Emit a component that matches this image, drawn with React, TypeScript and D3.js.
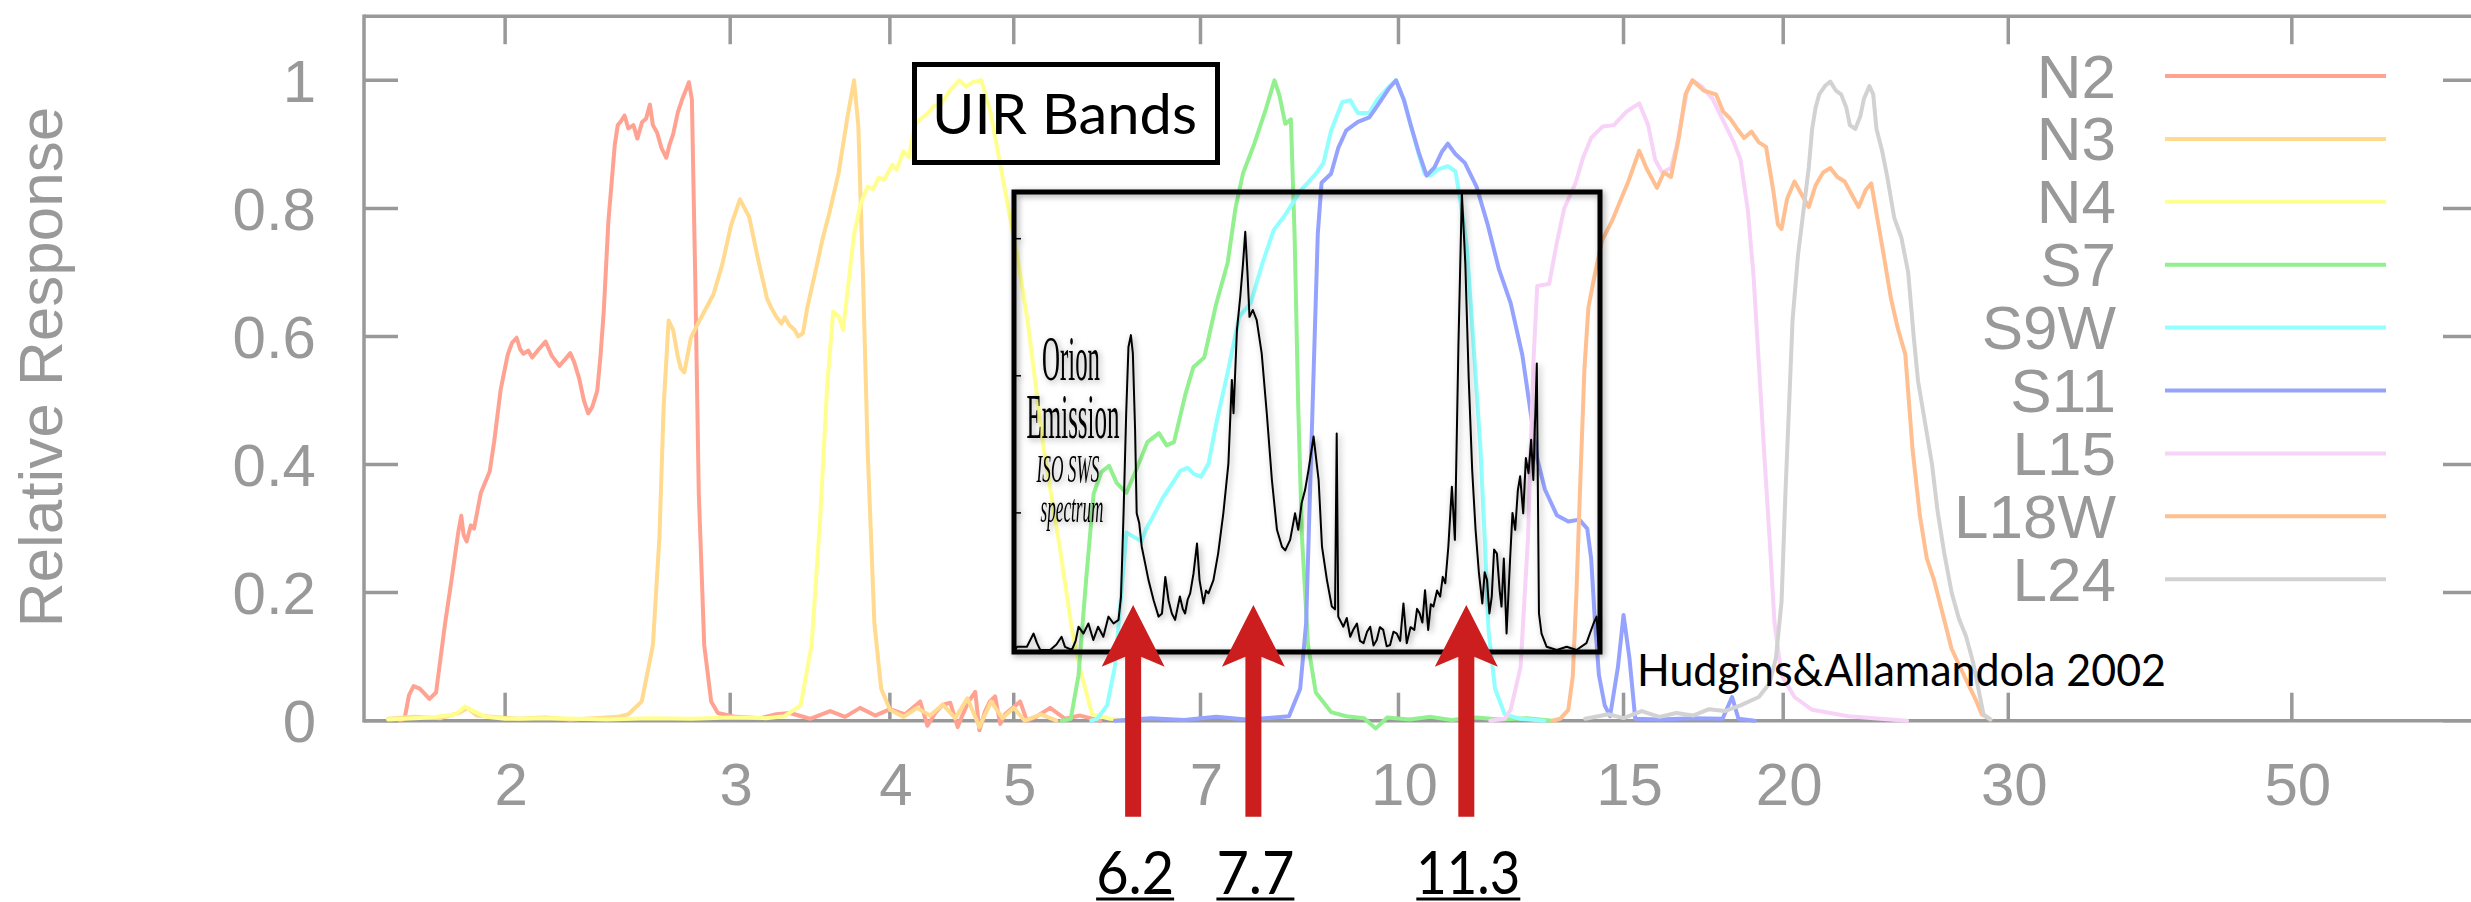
import React from 'react';
import * as d3 from 'd3';

type Pt = [number, number];

// Relative response of the AKARI IRC / MIR filters: [wavelength (µm), relative response]
const n2: Pt[] = [
  [1.655, 0], [1.669, 0.004], [1.682, 0.04], [1.696, 0.054], [1.715, 0.05], [1.745, 0.034], [1.766, 0.044],
  [1.795, 0.152], [1.816, 0.22], [1.838, 0.294], [1.848, 0.32], [1.856, 0.29], [1.866, 0.28], [1.88, 0.305],
  [1.891, 0.3], [1.914, 0.355], [1.945, 0.389], [1.961, 0.436], [1.984, 0.517], [2.009, 0.571], [2.025, 0.59],
  [2.042, 0.598], [2.055, 0.58], [2.067, 0.573], [2.085, 0.578], [2.1, 0.567], [2.125, 0.58], [2.151, 0.592],
  [2.175, 0.57], [2.205, 0.554], [2.23, 0.565], [2.249, 0.574], [2.265, 0.56], [2.285, 0.535], [2.305, 0.5],
  [2.323, 0.48], [2.34, 0.49], [2.361, 0.515], [2.375, 0.57], [2.389, 0.64], [2.409, 0.78], [2.437, 0.9],
  [2.45, 0.93], [2.466, 0.937], [2.48, 0.945], [2.497, 0.925], [2.52, 0.93], [2.538, 0.909], [2.56, 0.935],
  [2.578, 0.94], [2.596, 0.962], [2.61, 0.93], [2.63, 0.918], [2.65, 0.895], [2.674, 0.879], [2.69, 0.9],
  [2.707, 0.916], [2.73, 0.95], [2.751, 0.97], [2.77, 0.985], [2.785, 0.997], [2.8, 0.97], [2.817, 0.69],
  [2.835, 0.355], [2.863, 0.118], [2.899, 0.03], [2.934, 0.012], [3.03, 0.006], [3.167, 0.004], [3.26, 0.01],
  [3.342, 0.012], [3.464, 0.003], [3.592, 0.015], [3.69, 0.006], [3.791, 0.02], [3.895, 0.008], [4.002, 0.018],
  [4.111, 0.01], [4.225, 0.03], [4.28, -0.008], [4.341, 0.012], [4.4, 0.025], [4.46, 0.028], [4.52, -0.01],
  [4.557, 0.008], [4.61, 0.03], [4.665, 0.045], [4.7, -0.015], [4.749, 0.015], [4.79, 0.03], [4.835, 0.038],
  [4.88, -0.005], [4.923, 0.01], [4.99, 0.02], [5.058, 0.03], [5.12, 0], [5.196, 0.005], [5.339, 0.02],
  [5.485, 0.003], [5.636, 0.008], [5.843, 0],
];

const n3: Pt[] = [
  [1.62, 0.003], [1.7, 0.006], [1.78, 0.004], [1.84, 0.012], [1.87, 0.02], [1.9, 0.008], [1.95, 0.006],
  [2.05, 0.003], [2.15, 0.005], [2.25, 0.002], [2.35, 0.004], [2.45, 0.006], [2.497, 0.01], [2.558, 0.03],
  [2.61, 0.118], [2.641, 0.287], [2.661, 0.49], [2.685, 0.625], [2.707, 0.61], [2.729, 0.57], [2.745, 0.55],
  [2.762, 0.544], [2.795, 0.598], [2.839, 0.625], [2.911, 0.666], [2.958, 0.713], [3.005, 0.774], [3.053, 0.814],
  [3.104, 0.787], [3.155, 0.72], [3.206, 0.659], [3.23, 0.645], [3.257, 0.632], [3.29, 0.62], [3.31, 0.63],
  [3.337, 0.618], [3.37, 0.61], [3.39, 0.6], [3.42, 0.605], [3.447, 0.645], [3.502, 0.706], [3.544, 0.753],
  [3.588, 0.794], [3.647, 0.855], [3.706, 0.943], [3.75, 1.0], [3.779, 0.929], [3.811, 0.693], [3.843, 0.422],
  [3.89, 0.152], [3.938, 0.05], [4.001, 0.017], [4.1, 0.006], [4.2, 0.02], [4.3, 0.008], [4.4, 0.025],
  [4.5, 0.004], [4.6, 0.035], [4.7, -0.01], [4.8, 0.03], [4.9, 0.004], [5.0, 0.02], [5.1, 0], [5.25, 0.01],
  [5.4, 0],
];

const n4: Pt[] = [
  [1.62, 0.002], [1.75, 0.005], [1.83, 0.01], [1.86, 0.022], [1.89, 0.015], [1.93, 0.006], [2.0, 0.003],
  [2.2, 0.004], [2.4, 0.002], [2.6, 0.004], [2.8, 0.003], [3.0, 0.005], [3.2, 0.004], [3.308, 0.007],
  [3.406, 0.024], [3.474, 0.118], [3.529, 0.32], [3.573, 0.524], [3.612, 0.639], [3.647, 0.632], [3.676, 0.61],
  [3.711, 0.68], [3.75, 0.76], [3.794, 0.807], [3.843, 0.834], [3.88, 0.83], [3.92, 0.848], [3.96, 0.845],
  [4.017, 0.868], [4.05, 0.86], [4.097, 0.889], [4.14, 0.88], [4.181, 0.929], [4.23, 0.94], [4.284, 0.949],
  [4.33, 0.96], [4.387, 0.963], [4.46, 0.985], [4.533, 1.0], [4.59, 0.99], [4.642, 0.997], [4.717, 1.0],
  [4.795, 0.95], [4.873, 0.875], [4.952, 0.8], [5.028, 0.73], [5.122, 0.63], [5.273, 0.43], [5.433, 0.27],
  [5.555, 0.14], [5.636, 0.08], [5.758, 0.01], [5.949, 0.003], [6.2, 0],
];

const s7: Pt[] = [
  [5.45, 0], [5.541, 0.003], [5.619, 0.071], [5.696, 0.219], [5.774, 0.354], [5.853, 0.388], [5.937, 0.398],
  [6.02, 0.371], [6.125, 0.356], [6.229, 0.39], [6.361, 0.435], [6.495, 0.449], [6.585, 0.43], [6.674, 0.435],
  [6.813, 0.51], [6.91, 0.552], [7.047, 0.567], [7.199, 0.65], [7.351, 0.715], [7.455, 0.8], [7.558, 0.855],
  [7.713, 0.901], [7.875, 0.955], [7.998, 1.0], [8.071, 0.976], [8.155, 0.932], [8.238, 0.939], [8.293, 0.76],
  [8.348, 0.49], [8.404, 0.287], [8.497, 0.118], [8.616, 0.044], [8.856, 0.0135], [9.103, 0.007], [9.4, 0.004],
  [9.6, -0.012], [9.8, 0.005], [10.2, 0.002], [10.6, 0.006], [11.0, 0.001], [11.5, 0.005], [12.0, 0.002],
  [12.6, 0.004], [13.2, 0],
];

const s9w: Pt[] = [
  [5.75, 0], [5.811, 0.003], [5.916, 0.024], [5.999, 0.084], [6.062, 0.186], [6.125, 0.294], [6.208, 0.287],
  [6.293, 0.28], [6.35, 0.3], [6.406, 0.314], [6.47, 0.33], [6.54, 0.348], [6.6, 0.36], [6.675, 0.375],
  [6.75, 0.39], [6.837, 0.395], [6.92, 0.385], [7.006, 0.381], [7.103, 0.402], [7.199, 0.463], [7.351, 0.544],
  [7.506, 0.631], [7.662, 0.652], [7.82, 0.712], [7.986, 0.766], [8.155, 0.79], [8.377, 0.827], [8.616, 0.854],
  [8.736, 0.871], [8.856, 0.921], [9.037, 0.966], [9.167, 0.969], [9.295, 0.949], [9.488, 0.949], [9.617, 0.969],
  [9.819, 0.989], [9.956, 1.0], [10.1, 0.969], [10.23, 0.928], [10.37, 0.885], [10.48, 0.854], [10.59, 0.851],
  [10.74, 0.861], [10.93, 0.866], [11.08, 0.858], [11.19, 0.807], [11.31, 0.74], [11.45, 0.584], [11.59, 0.428],
  [11.69, 0.272], [11.76, 0.142], [11.9, 0.05], [12.11, 0.01], [12.45, 0.003], [13.0, 0],
];

const s11: Pt[] = [
  [6.0, 0], [6.4, 0.004], [6.8, 0.001], [7.2, 0.006], [7.6, 0.002], [8.0, 0.005], [8.21, 0.007], [8.377, 0.05],
  [8.467, 0.152], [8.526, 0.354], [8.586, 0.557], [8.647, 0.76], [8.706, 0.84], [8.856, 0.854], [8.974, 0.895],
  [9.103, 0.922], [9.295, 0.935], [9.488, 0.942], [9.617, 0.959], [9.819, 0.986], [9.956, 1.0], [10.1, 0.969],
  [10.23, 0.928], [10.37, 0.888], [10.52, 0.851], [10.67, 0.864], [10.81, 0.888], [10.93, 0.901], [11.08, 0.885],
  [11.27, 0.871], [11.51, 0.834], [11.75, 0.773], [11.98, 0.706], [12.24, 0.652], [12.5, 0.571], [12.67, 0.49],
  [12.84, 0.409], [13.02, 0.361], [13.3, 0.321], [13.58, 0.311], [13.85, 0.314], [14.05, 0.3], [14.15, 0.253],
  [14.25, 0.152], [14.35, 0.071], [14.5, 0.024], [14.64, 0.007], [14.85, 0.084], [15.0, 0.165], [15.16, 0.098],
  [15.32, 0.003], [16.0, 0.002], [17.0, 0.004], [17.93, 0.003], [18.24, 0.037], [18.45, 0.003], [19.0, 0],
];

const l15: Pt[] = [
  [11.8, 0], [12.11, 0.003], [12.24, 0.017], [12.46, 0.084], [12.63, 0.287], [12.75, 0.557], [12.84, 0.679],
  [13.12, 0.682], [13.3, 0.746], [13.48, 0.8], [13.76, 0.84], [13.95, 0.88], [14.15, 0.91], [14.45, 0.928],
  [14.74, 0.93], [15.08, 0.951], [15.43, 0.964], [15.68, 0.93], [15.88, 0.876], [16.08, 0.856], [16.34, 0.863],
  [16.5, 0.896], [16.82, 0.984], [16.98, 1.0], [17.26, 0.991], [17.61, 0.971], [17.95, 0.937], [18.3, 0.903],
  [18.52, 0.876], [18.77, 0.795], [18.96, 0.694], [19.14, 0.558], [19.32, 0.423], [19.51, 0.288], [19.69, 0.152],
  [19.94, 0.071], [20.41, 0.037], [21.07, 0.017], [22.49, 0.007], [23.82, 0.003], [25.0, 0],
];

const l18w: Pt[] = [
  [13.2, 0], [13.38, 0.003], [13.58, 0.017], [13.69, 0.07], [13.78, 0.2], [13.88, 0.38], [13.98, 0.55],
  [14.08, 0.645], [14.22, 0.69], [14.43, 0.75], [14.69, 0.78], [14.9, 0.81], [15.13, 0.842], [15.43, 0.89],
  [15.63, 0.863], [15.93, 0.832], [16.13, 0.856], [16.34, 0.849], [16.57, 0.91], [16.77, 0.978], [16.98, 1.0],
  [17.33, 0.984], [17.72, 0.978], [17.95, 0.951], [18.18, 0.94], [18.41, 0.924], [18.64, 0.91], [18.89, 0.92],
  [19.14, 0.903], [19.39, 0.896], [19.64, 0.829], [19.81, 0.775], [19.94, 0.768], [20.14, 0.815], [20.41, 0.842],
  [20.67, 0.822], [20.94, 0.802], [21.2, 0.836], [21.49, 0.856], [21.77, 0.863], [22.05, 0.849], [22.34, 0.842],
  [22.62, 0.822], [22.91, 0.802], [23.21, 0.829], [23.44, 0.839], [23.74, 0.775], [23.97, 0.727], [24.28, 0.66],
  [24.59, 0.612], [24.92, 0.572], [25.25, 0.423], [25.58, 0.321], [25.9, 0.254], [26.24, 0.22], [26.56, 0.179],
  [27.09, 0.112], [27.8, 0.064], [28.33, 0.03], [28.6, 0.01], [29.05, 0.002],
];

const l24: Pt[] = [
  [14.0, 0.003], [14.6, 0.01], [15.0, 0.004], [15.5, 0.015], [16.0, 0.006], [16.5, 0.012], [17.0, 0.008],
  [17.5, 0.018], [18.0, 0.015], [18.52, 0.024], [19.14, 0.037], [19.51, 0.058], [19.74, 0.098], [19.94, 0.186],
  [20.08, 0.355], [20.21, 0.49], [20.34, 0.626], [20.54, 0.727], [20.74, 0.795], [20.94, 0.863], [21.07, 0.924],
  [21.2, 0.957], [21.34, 0.978], [21.56, 0.991], [21.77, 0.998], [21.99, 0.984], [22.2, 0.978], [22.41, 0.957],
  [22.55, 0.93], [22.77, 0.924], [22.98, 0.944], [23.13, 0.971], [23.36, 0.991], [23.52, 0.978], [23.66, 0.924],
  [23.9, 0.89], [24.12, 0.85], [24.43, 0.785], [24.74, 0.755], [25.05, 0.7], [25.3, 0.6], [25.5, 0.53],
  [25.8, 0.47], [26.15, 0.4], [26.4, 0.33], [26.74, 0.26], [27.09, 0.2], [27.45, 0.159], [27.8, 0.132],
  [28.16, 0.091], [28.42, 0.051], [28.69, 0.01], [29.05, 0.002],
];

const bandNames = ['N2', 'N3', 'N4', 'S7', 'S9W', 'S11', 'L15', 'L18W', 'L24'];
const bandColors = ['#ffa291', '#ffda8f', '#ffff8f', '#92f08e', '#92ffff', '#95a3ff', '#f7d3f7', '#ffbf91', '#d2d2d2'];
const bandCurves: Pt[][] = [n2, n3, n4, s7, s9w, s11, l15, l18w, l24];

const xTickValues = [2, 3, 4, 5, 7, 10, 15, 20, 30, 50];
const yTickValues = [0, 0.2, 0.4, 0.6, 0.8, 1];

// Orion Bar ISO SWS spectrum (Hudgins & Allamandola 2002): [wavelength (µm), normalised flux]
const orionSpectrum: Pt[] = [
  [5.012, 0], [5.03, 0.007], [5.12, 0.007], [5.182, 0.036], [5.214, 0.015], [5.245, 0], [5.339, 0], [5.4, 0.012],
  [5.45, 0.029], [5.484, 0.007], [5.552, 0], [5.59, 0.02], [5.619, 0.051], [5.669, 0.036], [5.72, 0.058],
  [5.771, 0.022], [5.821, 0.051], [5.876, 0.029], [5.93, 0.073], [5.985, 0.058], [6.039, 0.066], [6.066, 0.117],
  [6.094, 0.299], [6.123, 0.518], [6.148, 0.663], [6.175, 0.689], [6.197, 0.649], [6.222, 0.481], [6.24, 0.299],
  [6.268, 0.278], [6.297, 0.226], [6.335, 0.19], [6.374, 0.153], [6.433, 0.109], [6.491, 0.073], [6.531, 0.08],
  [6.57, 0.16], [6.608, 0.109], [6.648, 0.08], [6.687, 0.066], [6.745, 0.117], [6.78, 0.09], [6.808, 0.08],
  [6.84, 0.11], [6.871, 0.124], [6.913, 0.168], [6.956, 0.233], [6.988, 0.153], [7.038, 0.102], [7.07, 0.13],
  [7.101, 0.124], [7.165, 0.153], [7.226, 0.211], [7.294, 0.299], [7.361, 0.408], [7.407, 0.591], [7.429, 0.518],
  [7.475, 0.7], [7.52, 0.773], [7.557, 0.845], [7.588, 0.915], [7.619, 0.823], [7.646, 0.729], [7.692, 0.744],
  [7.746, 0.722], [7.816, 0.649], [7.888, 0.518], [7.961, 0.372], [8.034, 0.263], [8.107, 0.226], [8.155, 0.218],
  [8.227, 0.241], [8.3, 0.299], [8.348, 0.263], [8.399, 0.321], [8.451, 0.35], [8.504, 0.394], [8.582, 0.467],
  [8.66, 0.372], [8.713, 0.226], [8.791, 0.153], [8.869, 0.095], [8.92, 0.089], [8.947, 0.474], [8.972, 0.073],
  [9.055, 0.051], [9.11, 0.07], [9.167, 0.029], [9.22, 0.045], [9.279, 0.058], [9.33, 0.02], [9.39, 0.015],
  [9.45, 0.04], [9.503, 0.051], [9.56, 0.01], [9.616, 0.022], [9.67, 0.05], [9.729, 0.044], [9.79, 0.008],
  [9.85, 0.011], [9.91, 0.04], [9.97, 0.036], [10.03, 0.02], [10.09, 0.102], [10.15, 0.015], [10.22, 0.05],
  [10.29, 0.044], [10.34, 0.09], [10.39, 0.08], [10.44, 0.06], [10.49, 0.131], [10.55, 0.044], [10.6, 0.1],
  [10.65, 0.095], [10.72, 0.13], [10.78, 0.117], [10.83, 0.16], [10.88, 0.146], [10.94, 0.226], [11.01, 0.357],
  [11.07, 0.241], [11.14, 0.663], [11.21, 1.0], [11.28, 0.845], [11.35, 0.591], [11.42, 0.394], [11.49, 0.263],
  [11.56, 0.168], [11.63, 0.102], [11.68, 0.17], [11.73, 0.153], [11.78, 0.08], [11.83, 0.117], [11.88, 0.22],
  [11.94, 0.211], [12.0, 0.13], [12.04, 0.095], [12.09, 0.2], [12.15, 0.036], [12.23, 0.204], [12.28, 0.3],
  [12.34, 0.263], [12.4, 0.35], [12.45, 0.38], [12.52, 0.299], [12.58, 0.42], [12.64, 0.387], [12.7, 0.46],
  [12.75, 0.372], [12.83, 0.627], [12.88, 0.08], [12.94, 0.036], [13.06, 0.007], [13.3, 0], [13.54, 0.007],
  [13.78, 0], [14.03, 0.015], [14.21, 0.058], [14.29, 0.073], [14.34, 0.007],
];
const spectrumTicks = [0.3, 0.6, 0.9];
const spectrumCaption = ['Orion', 'Emission'];
const spectrumSubCaption = ['ISO SWS', 'spectrum'];

// Unidentified infrared emission band centres (µm)
const uirBands = [6.2, 7.7, 11.3];
const uirLabels = ['6.2', '7.7', '11.3'];

const SANS = '"Liberation Sans", Arial, Helvetica, sans-serif';
const HUMANIST = 'Lato, "Open Sans", sans-serif';
const SERIF = '"Liberation Serif", "Times New Roman", serif';
const GREY = '#999999';

export default function App() {
  const width = 2471;
  const height = 902;

  const x = d3.scaleLog().domain([1.551, 69.8]).range([364, 2477]);
  const y = d3.scaleLinear().domain([0, 1]).range([720.7, 80.3]);
  const [xl, xr] = x.range();
  const yb = y(0);
  const yt = y(1.1);

  const curve = d3.line<Pt>().x((d) => x(d[0])).y((d) => y(d[1]));

  // inset spectrum frame
  const box = { x0: 1014, y0: 192, x1: 1600, y1: 652 };
  const ys = d3.scaleLinear().domain([0, 1]).range([650, 193]);
  const specLine = d3.line<Pt>().x((d) => x(d[0])).y((d) => ys(d[1]));

  const legendX = 2116;
  const legendLine: [number, number] = [2165, 2386];
  const legendTop = 76;
  const legendStep = 62.9;

  const arrowPath = (cx: number) =>
    `M${cx},605 L${cx + 31.5},666.7 L${cx + 8},656.7 L${cx + 8},816.7 L${cx - 8},816.7 L${cx - 8},656.7 L${cx - 31.5},666.7 Z`;

  const axisStroke = 3.5;

  return (
    <svg
      width={width}
      height={height}
      viewBox={`0 0 ${width} ${height}`}
      style={{ position: 'absolute', left: 0, top: 0, background: '#ffffff' }}
    >
      <defs>
        <filter id="insetShadow" x="-5%" y="-5%" width="110%" height="110%">
          <feGaussianBlur in="SourceAlpha" stdDeviation="3" />
          <feOffset dx="2" dy="2" result="blurred" />
          <feFlood floodColor="#000000" floodOpacity="0.35" />
          <feComposite in2="blurred" operator="in" />
          <feMerge>
            <feMergeNode />
            <feMergeNode in="SourceGraphic" />
          </feMerge>
        </filter>
      </defs>
      <rect x={0} y={0} width={width} height={height} fill="#ffffff" />

      {/* frame */}
      <g stroke={GREY} strokeWidth={axisStroke} fill="none">
        <line x1={xl} y1={yt} x2={xr} y2={yt} />
        <line x1={xl} y1={yb} x2={xr} y2={yb} />
        <line x1={xl} y1={yt - axisStroke / 2} x2={xl} y2={yb + axisStroke / 2} />
        <line x1={xr} y1={yt - axisStroke / 2} x2={xr} y2={yb + axisStroke / 2} />
        {xTickValues.map((v) => (
          <g key={`xt${v}`}>
            <line x1={x(v)} y1={yb} x2={x(v)} y2={yb - 28} />
            <line x1={x(v)} y1={yt} x2={x(v)} y2={yt + 28} />
          </g>
        ))}
        {yTickValues.map((v) => (
          <g key={`yt${v}`}>
            <line x1={xl} y1={y(v)} x2={xl + 34} y2={y(v)} />
            <line x1={xr} y1={y(v)} x2={xr - 34} y2={y(v)} />
          </g>
        ))}
      </g>

      {/* tick labels */}
      <g fill={GREY} fontFamily={SANS} fontSize={60}>
        {xTickValues.map((v) => (
          <text key={`xl${v}`} x={x(v) + 6} y={805} textAnchor="middle">
            {String(v)}
          </text>
        ))}
        {yTickValues.map((v) => (
          <text key={`yl${v}`} x={316} y={y(v) + 21.5} textAnchor="end">
            {String(v)}
          </text>
        ))}
      </g>
      <text
        transform="translate(62,367) rotate(-90)"
        textAnchor="middle"
        fill={GREY}
        fontFamily={SANS}
        fontSize={62}
      >
        Relative Response
      </text>

      {/* filter response curves */}
      <g fill="none" strokeWidth={4} strokeLinejoin="round" strokeLinecap="round">
        {bandCurves.map((c, i) => (
          <path key={bandNames[i]} d={curve(c) ?? ''} stroke={bandColors[i]} />
        ))}
      </g>

      {/* legend */}
      <g>
        {bandNames.map((name, i) => {
          const ly = legendTop + i * legendStep;
          return (
            <g key={`lg${name}`}>
              <text x={legendX} y={ly + 21.5} textAnchor="end" fill={GREY} fontFamily={SANS} fontSize={62}>
                {name}
              </text>
              <line x1={legendLine[0]} y1={ly} x2={legendLine[1]} y2={ly} stroke={bandColors[i]} strokeWidth={4} />
            </g>
          );
        })}
      </g>

      {/* inset: Orion emission spectrum */}
      <g filter="url(#insetShadow)">
        <rect
          x={box.x0}
          y={box.y0}
          width={box.x1 - box.x0}
          height={box.y1 - box.y0}
          fill="none"
          stroke="#000000"
          strokeWidth={5}
        />
        {spectrumTicks.map((t) => (
          <line key={`st${t}`} x1={box.x0 + 2} y1={ys(t)} x2={box.x0 + 7} y2={ys(t)} stroke="#000" strokeWidth={1.5} />
        ))}
        <path d={specLine(orionSpectrum) ?? ''} fill="none" stroke="#000000" strokeWidth={2} strokeLinejoin="round" />
        <g fontFamily={SERIF} fill="#000000" textAnchor="middle">
          <text x={1071} y={380} fontSize={63} textLength={58} lengthAdjust="spacingAndGlyphs">
            {spectrumCaption[0]}
          </text>
          <text x={1073} y={438} fontSize={63} textLength={93} lengthAdjust="spacingAndGlyphs">
            {spectrumCaption[1]}
          </text>
          <text x={1068} y={482} fontSize={41} fontStyle="italic" textLength={63} lengthAdjust="spacingAndGlyphs">
            {spectrumSubCaption[0]}
          </text>
          <text x={1072} y={522} fontSize={41} fontStyle="italic" textLength={63} lengthAdjust="spacingAndGlyphs">
            {spectrumSubCaption[1]}
          </text>
        </g>
      </g>

      {/* title box */}
      <rect x={914.5} y={64.5} width={303} height={98} fill="none" stroke="#000000" strokeWidth={5} />
      <text
        x={932}
        y={134}
        fontFamily={HUMANIST}
        fontSize={57}
        fill="#000000"
        textLength={265}
        lengthAdjust="spacingAndGlyphs"
      >
        UIR Bands
      </text>
      <text
        x={1637}
        y={686}
        fontFamily={HUMANIST}
        fontSize={44}
        fill="#000000"
        textLength={529}
        lengthAdjust="spacingAndGlyphs"
      >
        Hudgins&amp;Allamandola 2002
      </text>

      {/* UIR band arrows */}
      <g fill="#cc1e1e">
        {uirBands.map((b) => (
          <path key={`ar${b}`} d={arrowPath(x(b))} />
        ))}
      </g>
      <g fontFamily={HUMANIST} fontSize={60} fill="#000000">
        {uirBands.map((b, i) => {
          const w = 26 * uirLabels[i].length;
          const cx = x(b) + 2;
          return (
            <g key={`ul${b}`}>
              <text x={cx} y={894} textAnchor="middle" textLength={w} lengthAdjust="spacingAndGlyphs">
                {uirLabels[i]}
              </text>
              <line x1={cx - w / 2} y1={899} x2={cx + w / 2} y2={899} stroke="#000000" strokeWidth={3} />
            </g>
          );
        })}
      </g>
    </svg>
  );
}
